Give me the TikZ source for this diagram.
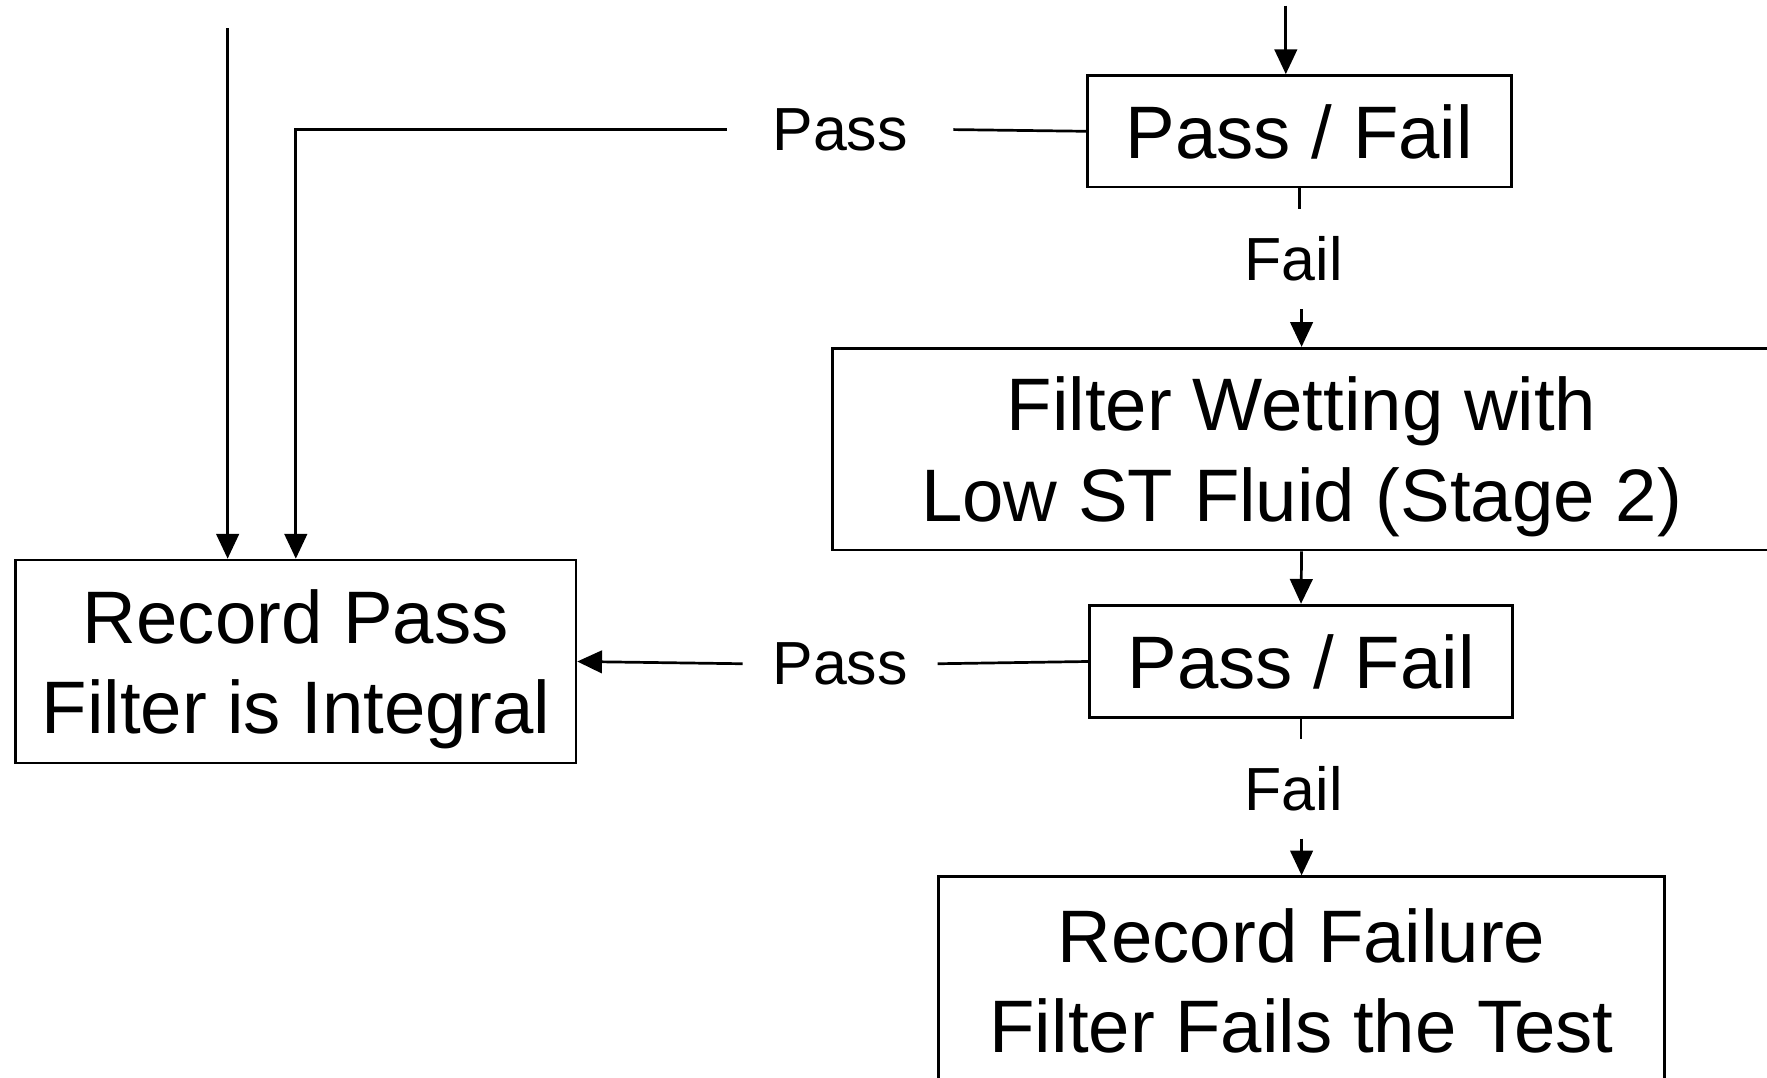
\documentclass[tikz,border=0pt]{standalone}
\usepackage{fontspec}
\setmainfont{Liberation Sans}
\usetikzlibrary{arrows.meta}
\begin{document}
\begin{tikzpicture}[x=0.5pt,y=-0.5pt,
  box/.style={draw,line width=1.2pt,inner sep=0pt,align=center,text depth=0pt,
    font=\fontsize{33}{40}\selectfont},
  lbl/.style={inner ysep=12pt,font=\fontsize{27}{32}\selectfont},
  conn/.style={line width=1.2pt},
  arr/.style={conn,-{Triangle[length=11pt,width=10pt]}}]
\useasboundingbox (0,0) rectangle (1568,956);
% boxes
\node[box,minimum width=188pt,minimum height=49.5pt] (pf1) at (1153,116.5) {Pass / Fail};
\node[box,minimum width=416pt,minimum height=89.5pt] (fw) at (1155,398.5) {Filter Wetting with\\Low ST Fluid (Stage 2)};
\node[box,minimum width=187.5pt,minimum height=50pt] (pf2) at (1154.5,587) {Pass / Fail};
\node[box,minimum width=248.5pt,minimum height=90pt] (rp) at (262.5,587) {Record Pass\\Filter is Integral};
\node[box,minimum width=322pt,minimum height=92pt] (rf) at (1155,870) {Record Failure\\Filter Fails the Test};
% labels
\node[lbl,inner xsep=20pt] (pass1) at (745.5,115) {Pass};
\node[lbl,inner xsep=13pt] (pass2) at (745.5,589) {Pass};
\node[lbl] (fail1) at (1148,230) {Fail};
\node[lbl] (fail2) at (1148,700) {Fail};
% free ends
\coordinate (in1) at (1141,5);
\coordinate (in2) at (202,25);
% connectors
\draw[arr] (in1) -- (in1 |- pf1.north);
\draw[arr] (in2) -- (in2 |- rp.north);
\draw[conn] (pf1.west) -- (pass1.east);
\draw[arr] (pass1.west) -| (rp.north);
\draw[conn] (pf1.south) -- (pf1.south |- fail1.north);
\draw[arr] (fail1.south -| fw.north) -- (fw.north);
\draw[arr] (fw.south) -- (pf2.north);
\draw[conn] (pf2.west) -- (pass2.east);
\draw[arr] (pass2.west) -- (rp.east);
\draw[conn] (pf2.south) -- (pf2.south |- fail2.north);
\draw[arr] (fail2.south -| rf.north) -- (rf.north);
\end{tikzpicture}
\end{document}
